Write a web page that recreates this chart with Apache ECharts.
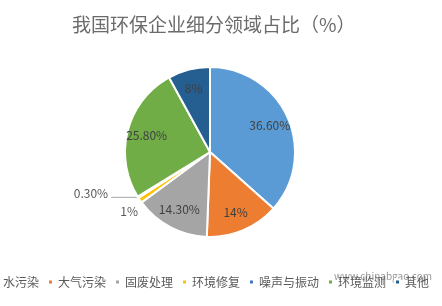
<!DOCTYPE html>
<html>
<head>
<meta charset="utf-8">
<script src="https://cdn.jsdelivr.net/npm/echarts@6/dist/echarts.min.js"></script>
<style>
  html, body { margin: 0; padding: 0; background: #fff; }
  #chart { width: 442px; height: 306px; }
</style>
</head>
<body>
<div id="chart"></div>
<script>
// 我国环保企业细分领域占比 (%)
const categories = ['水污染', '大气污染', '固废处理', '环境修复', '噪声与振动', '环境监测', '其他'];
const shares = [36.6, 14, 14.3, 1, 0.3, 25.8, 8];
const shareLabels = ['36.60%', '14%', '14.30%', '1%', '0.30%', '25.80%', '8%'];
const palette = ['#5b9bd5', '#ed7d31', '#a5a5a5', '#ffc000', '#4472c4', '#70ad47', '#255e91'];

const FONT = '"Noto Sans CJK SC", "Noto Sans", sans-serif';
const SMALL = 2; // slices labelled outside the pie

const center = [210, 152];
const outerR = 85;

const chart = echarts.init(document.getElementById('chart'), null, { renderer: 'canvas' });

// Main pie: slices, plus outside labels for the two thin slices
const mainData = categories.map((name, i) => {
  const small = shares[i] < SMALL;
  const item = {
    name,
    value: shares[i],
    itemStyle: { color: palette[i] },
    label: { show: small }
  };
  if (small) {
    if (name === '环境修复') {
      // label sits just below the slice, no leader line
      item.label = {
        show: true,
        distanceToLabelLine: 2,
        lineHeight: 22,
        formatter: p => '\n' + shareLabels[p.dataIndex]
      };
      item.labelLine = { show: false, length: 0, length2: 0 };
    } else {
      item.label = {
        show: true,
        distanceToLabelLine: 3,
        lineHeight: 8,
        formatter: p => shareLabels[p.dataIndex] + '\n'
      };
      item.labelLine = { show: true, length: 0, length2: 27 };
    }
  }
  return item;
});

// Label ring: transparent overlay so inner labels sit near the outer edge
const labelData = categories.map((name, i) => ({
  name,
  value: shares[i],
  label: { show: shares[i] >= SMALL }
}));

chart.setOption({
  animation: false,
  backgroundColor: '#ffffff',
  color: palette,
  title: {
    text: '我国环保企业细分领域占比（%）',
    left: 67,
    top: 10,
    textStyle: { fontFamily: FONT, fontSize: 19, fontWeight: 'normal', color: '#6b6b6b' }
  },
  legend: {
    data: categories,
    left: -13,
    top: 271,
    width: 470,
    itemWidth: 5,
    itemHeight: 5,
    itemGap: 8,
    icon: 'rect',
    selectedMode: false,
    textStyle: { fontFamily: FONT, fontSize: 12, color: '#595959' }
  },
  graphic: [{
    type: 'text',
    left: 334,
    top: 271,
    silent: true,
    style: {
      text: 'www.chinabgao.com',
      fontFamily: FONT,
      fontSize: 10,
      fill: 'rgba(80,80,80,0.6)'
    }
  }],
  series: [
    {
      type: 'pie',
      center,
      radius: [0, outerR],
      startAngle: 90,
      clockwise: true,
      avoidLabelOverlap: false,
      itemStyle: { borderColor: '#ffffff', borderWidth: 2 },
      label: {
        position: 'outside',
        fontFamily: FONT,
        fontSize: 12,
        color: '#595959',
        formatter: p => shareLabels[p.dataIndex]
      },
      labelLine: { lineStyle: { color: '#a6a6a6', width: 1 } },
      emphasis: { disabled: true },
      data: mainData
    },
    {
      type: 'pie',
      center,
      radius: [40, outerR],
      startAngle: 90,
      clockwise: true,
      silent: true,
      itemStyle: { color: 'rgba(0,0,0,0)', borderWidth: 0 },
      label: {
        position: 'inside',
        fontFamily: FONT,
        fontSize: 12,
        color: '#404040',
        formatter: p => shareLabels[p.dataIndex]
      },
      labelLine: { show: false },
      emphasis: { disabled: true },
      data: labelData
    }
  ]
});
</script>
</body>
</html>
